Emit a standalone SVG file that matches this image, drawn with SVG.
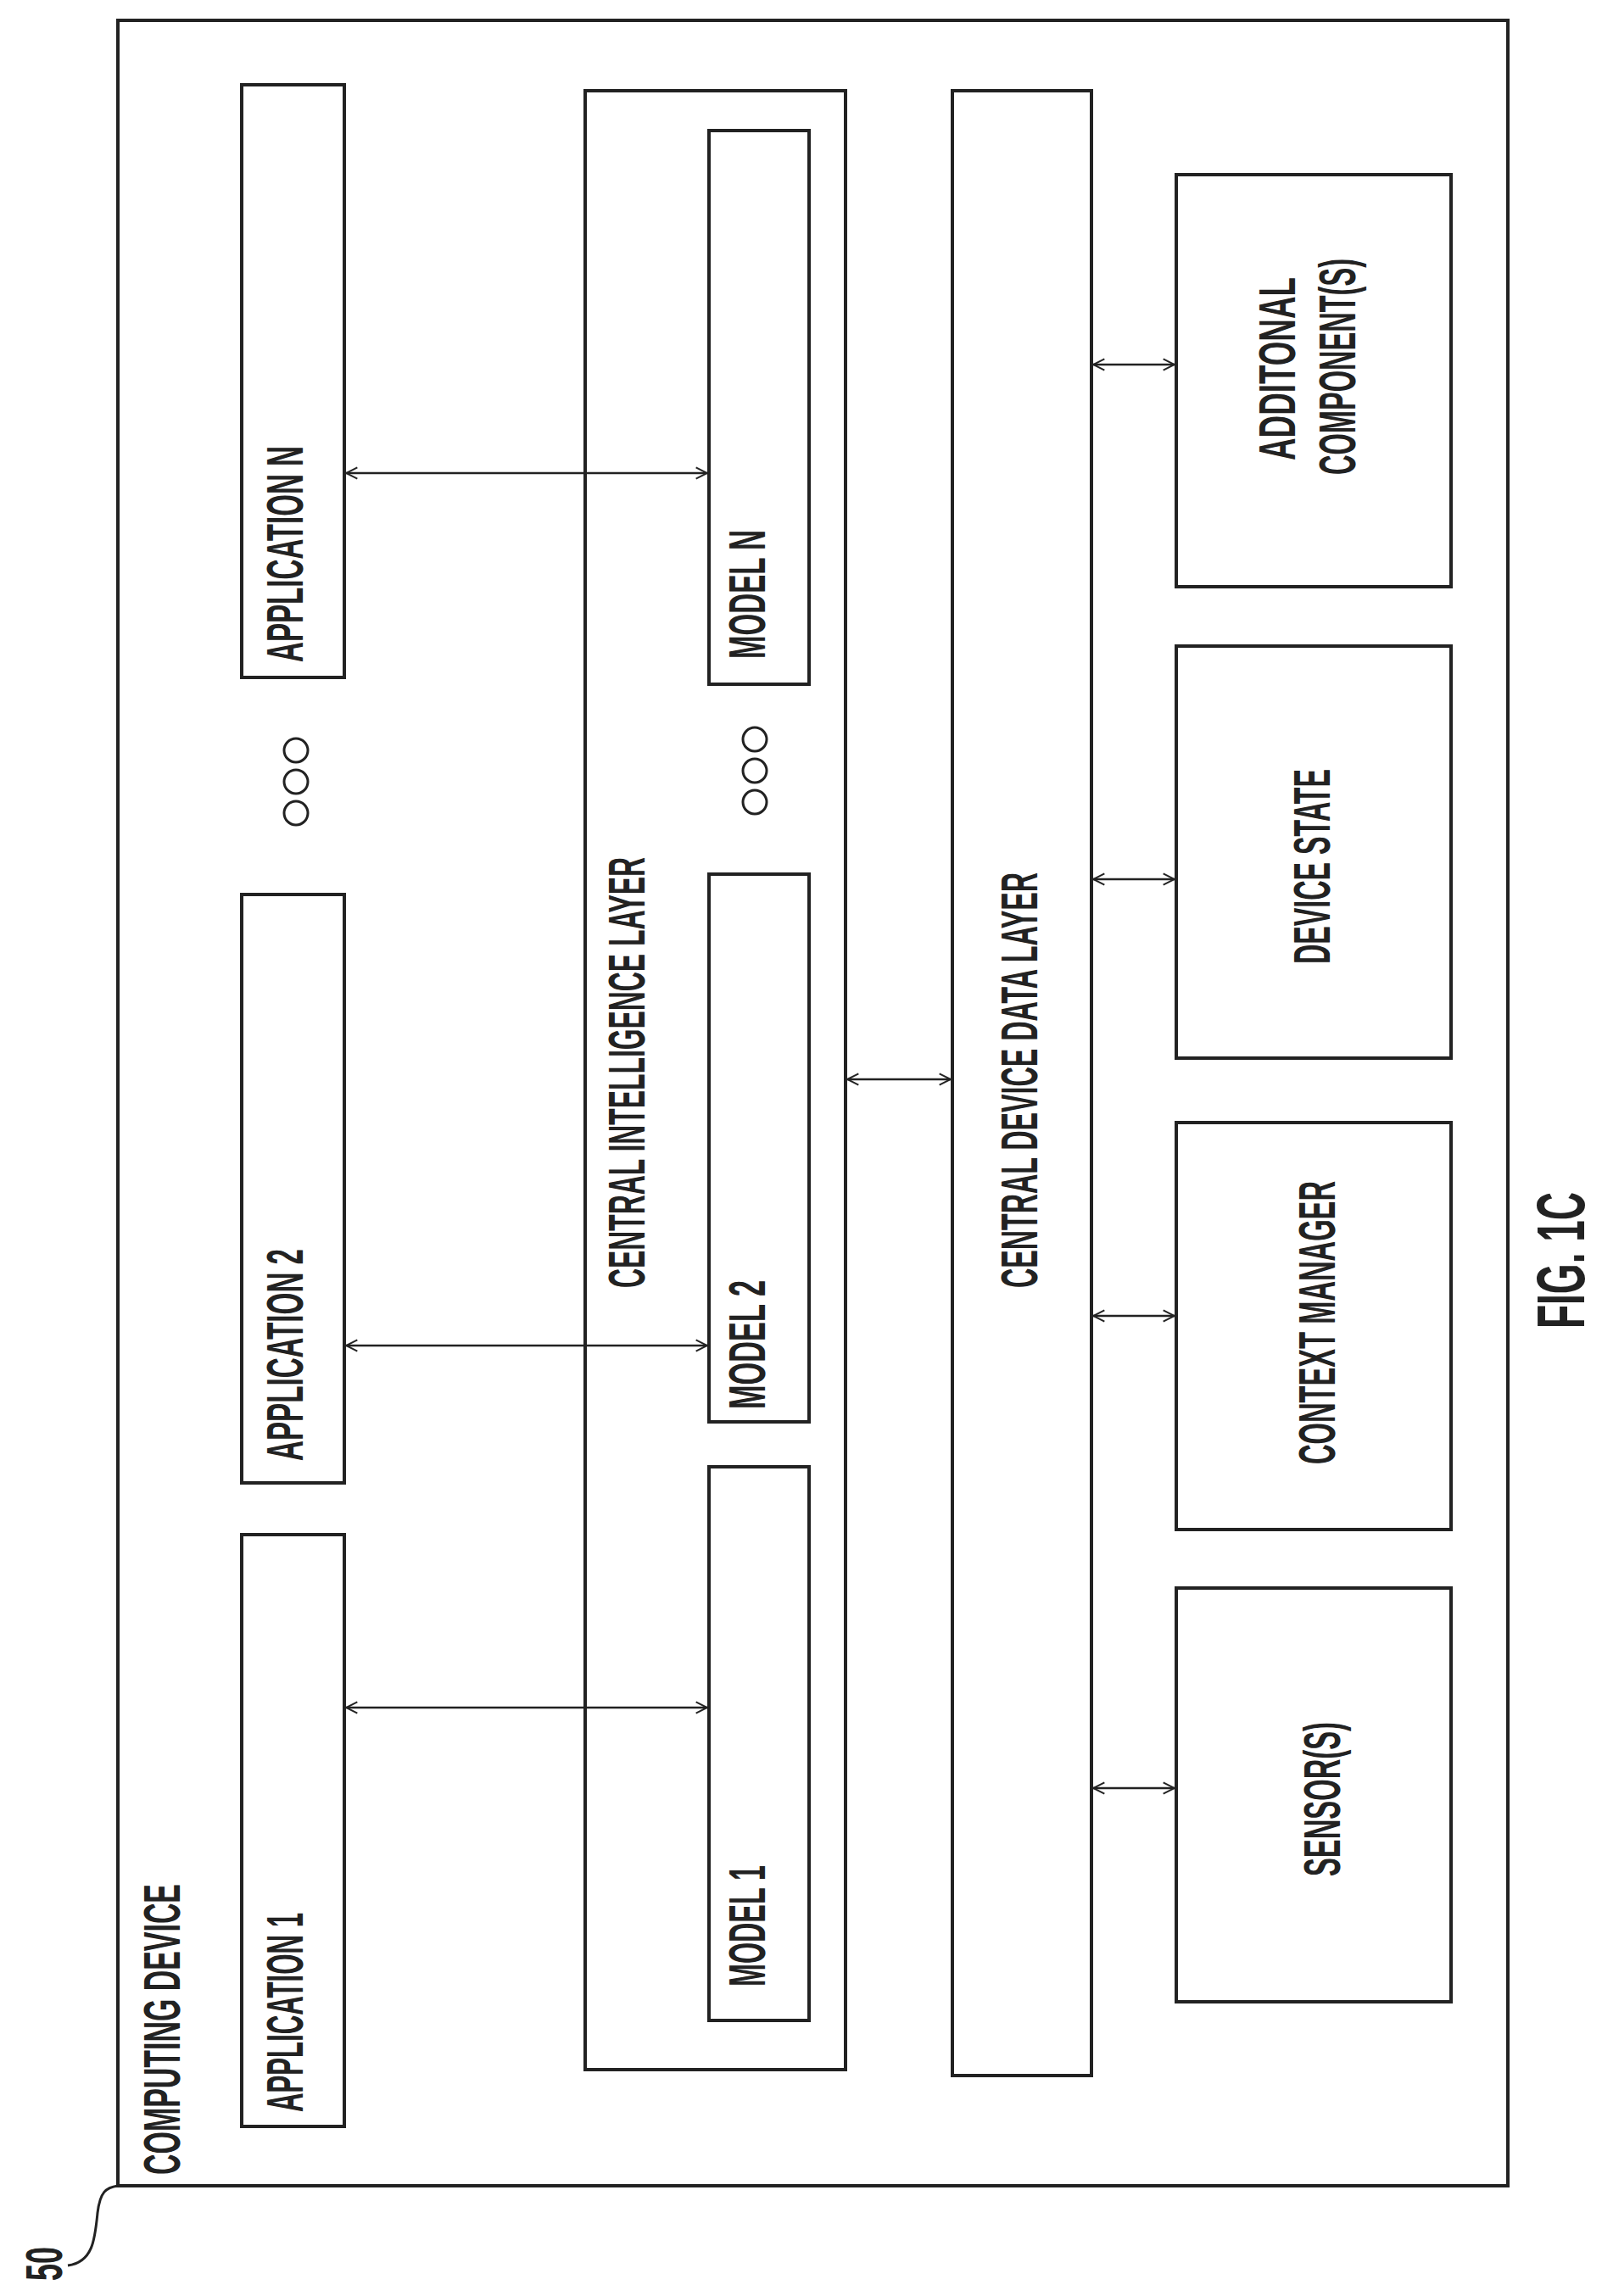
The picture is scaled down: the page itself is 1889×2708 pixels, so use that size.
<svg xmlns="http://www.w3.org/2000/svg" width="1889" height="2708" viewBox="0 0 1889 2708">
<style>
.b{fill:none;stroke:#222;stroke-width:4}
.t{font-family:"Liberation Sans",Arial,sans-serif;font-size:62px;font-weight:bold;fill:#222}
.c{fill:none;stroke:#222;stroke-width:2.5;marker-start:url(#a);marker-end:url(#a)}
.d{fill:none;stroke:#222;stroke-width:3}
</style>
<defs>
<marker id="a" viewBox="0 0 12 12" refX="11" refY="6" markerWidth="16" markerHeight="16" orient="auto-start-reverse" markerUnits="userSpaceOnUse">
<path d="M1,1 L11,6 L1,11 M4,6 L11,6" fill="none" stroke="#222" stroke-width="1.5"/>
</marker>
</defs>
<g id="computing-device">
<rect class="b" x="139" y="24" width="1639" height="2554"/>
<text class="t" transform="translate(212,2565) rotate(-90)" textLength="343" lengthAdjust="spacingAndGlyphs">COMPUTING DEVICE</text>
</g>
<g id="ref50">
<path class="d" d="M80,2672 C110,2668 112,2640 115,2610 C118,2585 125,2580 139,2578"/>
<text class="t" transform="translate(73,2690) rotate(-90)" textLength="40" lengthAdjust="spacingAndGlyphs">50</text>
</g>
<g id="app1"><rect class="b" x="285" y="1810" width="121" height="698"/>
<text class="t" transform="translate(357,2491) rotate(-90)" textLength="235" lengthAdjust="spacingAndGlyphs">APPLICATION 1</text></g>
<g id="app2"><rect class="b" x="285" y="1055" width="121" height="694"/>
<text class="t" transform="translate(357,1723) rotate(-90)" textLength="250" lengthAdjust="spacingAndGlyphs">APPLICATION 2</text></g>
<g id="appN"><rect class="b" x="285" y="100" width="121" height="699"/>
<text class="t" transform="translate(357,781) rotate(-90)" textLength="255" lengthAdjust="spacingAndGlyphs">APPLICATION N</text></g>
<g id="app-dots"><circle class="d" cx="349" cy="885" r="14"/><circle class="d" cx="349" cy="922" r="14"/><circle class="d" cx="349" cy="959" r="14"/></g>
<g id="cil"><rect class="b" x="690" y="107" width="307" height="2334"/>
<text class="t" text-anchor="middle" transform="translate(760,1265) rotate(-90)" textLength="508" lengthAdjust="spacingAndGlyphs">CENTRAL INTELLIGENCE LAYER</text></g>
<g id="model1"><rect class="b" x="836" y="1730" width="118" height="653"/>
<text class="t" transform="translate(902,2343) rotate(-90)" textLength="143" lengthAdjust="spacingAndGlyphs">MODEL 1</text></g>
<g id="model2"><rect class="b" x="836" y="1031" width="118" height="646"/>
<text class="t" transform="translate(902,1662) rotate(-90)" textLength="152" lengthAdjust="spacingAndGlyphs">MODEL 2</text></g>
<g id="modelN"><rect class="b" x="836" y="154" width="118" height="653"/>
<text class="t" transform="translate(902,777) rotate(-90)" textLength="152" lengthAdjust="spacingAndGlyphs">MODEL N</text></g>
<g id="model-dots"><circle class="d" cx="890" cy="872" r="14"/><circle class="d" cx="890" cy="909" r="14"/><circle class="d" cx="890" cy="946" r="14"/></g>
<g id="cddl"><rect class="b" x="1123" y="107" width="164" height="2341"/>
<text class="t" text-anchor="middle" transform="translate(1223,1274) rotate(-90)" textLength="490" lengthAdjust="spacingAndGlyphs">CENTRAL DEVICE DATA LAYER</text></g>
<g id="additional"><rect class="b" x="1387" y="206" width="324" height="486"/>
<text class="t" transform="translate(1527,543) rotate(-90)" textLength="216" lengthAdjust="spacingAndGlyphs">ADDITONAL</text>
<text class="t" transform="translate(1598,560) rotate(-90)" textLength="255" lengthAdjust="spacingAndGlyphs">COMPONENT(S)</text></g>
<g id="device-state"><rect class="b" x="1387" y="762" width="324" height="486"/>
<text class="t" transform="translate(1568,1137) rotate(-90)" textLength="230" lengthAdjust="spacingAndGlyphs">DEVICE STATE</text></g>
<g id="context-manager"><rect class="b" x="1387" y="1324" width="324" height="480"/>
<text class="t" transform="translate(1574,1727) rotate(-90)" textLength="334" lengthAdjust="spacingAndGlyphs">CONTEXT MANAGER</text></g>
<g id="sensors"><rect class="b" x="1387" y="1873" width="324" height="488"/>
<text class="t" transform="translate(1580,2213) rotate(-90)" textLength="182" lengthAdjust="spacingAndGlyphs">SENSOR(S)</text></g>
<g id="fig"><text class="t" style="font-size:80px" transform="translate(1868,1567) rotate(-90)" textLength="161" lengthAdjust="spacingAndGlyphs">FIG. 1C</text></g>
<g id="connectors">
<line class="c" x1="408" y1="558" x2="834" y2="558"/>
<line class="c" x1="408" y1="1587" x2="834" y2="1587"/>
<line class="c" x1="408" y1="2014" x2="834" y2="2014"/>
<line class="c" x1="999" y1="1273" x2="1121" y2="1273"/>
<line class="c" x1="1289" y1="430" x2="1385" y2="430"/>
<line class="c" x1="1289" y1="1037" x2="1385" y2="1037"/>
<line class="c" x1="1289" y1="1552" x2="1385" y2="1552"/>
<line class="c" x1="1289" y1="2109" x2="1385" y2="2109"/>
</g>
</svg>
